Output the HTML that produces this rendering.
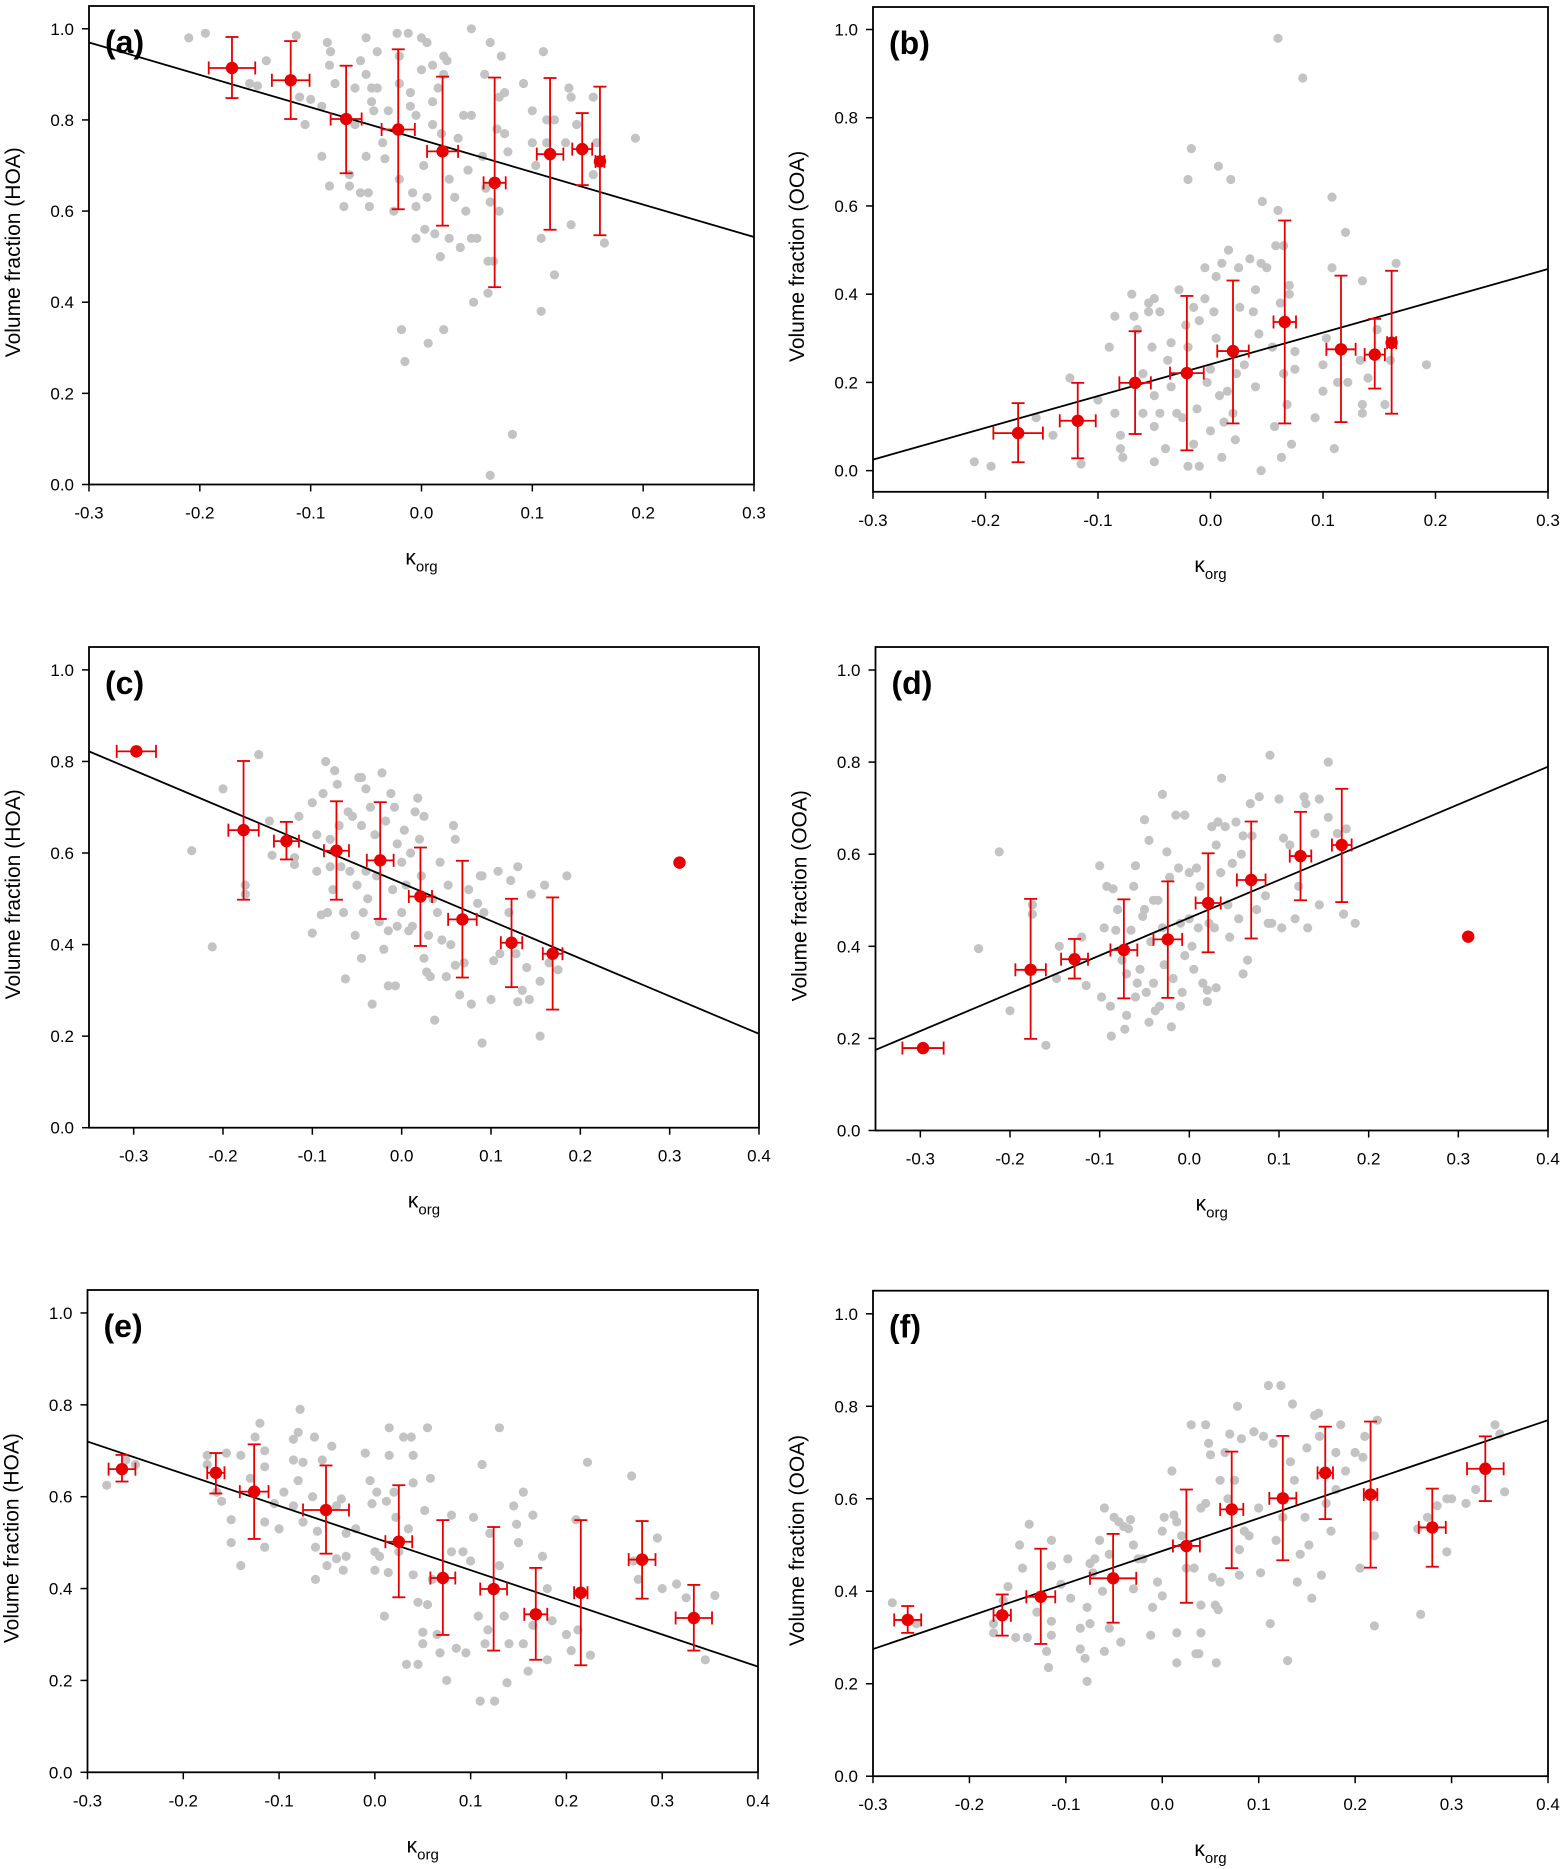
<!DOCTYPE html>
<html><head><meta charset="utf-8"><style>
html,body{margin:0;padding:0;background:#fff}
svg{display:block}
text{font-family:"Liberation Sans",Arial,sans-serif;fill:#000}
</style></head><body>
<svg id="fig" width="1568" height="1869" viewBox="0 0 1568 1869" xmlns="http://www.w3.org/2000/svg"></svg>
<script>
// ---------- Panel (a) ----------
const grayA = [[-0.21,0.98],[-0.195,0.99],[-0.14,0.93],[-0.155,0.88],[-0.148,0.875],[-0.113,0.985],[-0.11,0.85],[-0.1,0.845],[-0.105,0.79],[-0.09,0.83],[-0.09,0.72],[-0.085,0.97],[-0.082,0.95],[-0.083,0.92],[-0.083,0.655],[-0.078,0.88],[-0.07,0.61],[-0.065,0.68],[-0.065,0.655],[-0.06,0.79],[-0.06,0.87],[-0.055,0.93],[-0.055,0.64],[-0.05,0.98],[-0.05,0.9],[-0.05,0.72],[-0.048,0.64],[-0.047,0.61],[-0.045,0.87],[-0.045,0.84],[-0.043,0.82],[-0.04,0.95],[-0.04,0.87],[-0.035,0.75],[-0.033,0.715],[-0.03,0.82],[-0.025,0.6],[-0.022,0.99],[-0.02,0.94],[-0.02,0.88],[-0.02,0.67],[-0.018,0.34],[-0.015,0.27],[-0.012,0.99],[-0.01,0.86],[-0.01,0.83],[-0.008,0.64],[-0.005,0.81],[-0.005,0.61],[-0.005,0.54],[0.0,0.98],[0.0,0.91],[0.002,0.7],[0.003,0.56],[0.005,0.97],[0.005,0.63],[0.006,0.31],[0.01,0.92],[0.01,0.84],[0.01,0.79],[0.012,0.55],[0.015,0.87],[0.017,0.5],[0.018,0.77],[0.02,0.94],[0.02,0.9],[0.02,0.34],[0.023,0.93],[0.025,0.67],[0.025,0.54],[0.03,0.63],[0.033,0.76],[0.035,0.52],[0.038,0.81],[0.04,0.6],[0.042,0.69],[0.045,1.0],[0.045,0.81],[0.045,0.54],[0.047,0.4],[0.05,0.54],[0.055,0.72],[0.057,0.9],[0.058,0.65],[0.06,0.49],[0.06,0.42],[0.062,0.97],[0.062,0.62],[0.062,0.02],[0.065,0.49],[0.068,0.78],[0.07,0.6],[0.07,0.85],[0.072,0.94],[0.075,0.86],[0.075,0.77],[0.078,0.73],[0.082,0.11],[0.092,0.88],[0.1,0.82],[0.1,0.75],[0.103,0.7],[0.108,0.54],[0.108,0.38],[0.11,0.95],[0.113,0.8],[0.113,0.75],[0.12,0.8],[0.12,0.46],[0.13,0.75],[0.133,0.87],[0.135,0.85],[0.135,0.57],[0.14,0.79],[0.155,0.85],[0.155,0.68],[0.158,0.75],[0.165,0.53],[0.193,0.76]];
const binAx = [-0.171,-0.118,-0.068,-0.021,0.019,0.066,0.116,0.145,0.161];
const binAy = [0.914,0.887,0.802,0.779,0.731,0.662,0.725,0.736,0.709];
const binAxe = [0.021,0.017,0.014,0.015,0.014,0.01,0.012,0.009,0.004];
const binAlo = [0.848,0.802,0.683,0.604,0.568,0.433,0.559,0.657,0.547];
const binAhi = [0.982,0.973,0.919,0.955,0.895,0.893,0.892,0.815,0.873];
const fitA = [0.97,0.543];
// ---------- Panel (b) ----------
const grayB = [[-0.21,0.02],[-0.195,0.01],[-0.155,0.12],[-0.14,0.08],[-0.125,0.21],[-0.115,0.015],[-0.1,0.16],[-0.09,0.28],[-0.085,0.35],[-0.085,0.13],[-0.08,0.08],[-0.08,0.05],[-0.078,0.03],[-0.07,0.4],[-0.068,0.35],[-0.065,0.32],[-0.06,0.22],[-0.06,0.13],[-0.055,0.38],[-0.055,0.36],[-0.052,0.28],[-0.05,0.39],[-0.05,0.17],[-0.05,0.1],[-0.05,0.02],[-0.045,0.13],[-0.045,0.36],[-0.04,0.05],[-0.038,0.25],[-0.035,0.29],[-0.035,0.19],[-0.03,0.13],[-0.028,0.41],[-0.025,0.12],[-0.022,0.33],[-0.02,0.66],[-0.02,0.28],[-0.02,0.01],[-0.017,0.73],[-0.015,0.37],[-0.015,0.06],[-0.012,0.14],[-0.01,0.34],[-0.01,0.01],[-0.005,0.46],[-0.005,0.39],[-0.003,0.2],[0.0,0.23],[0.0,0.09],[0.003,0.36],[0.005,0.44],[0.005,0.3],[0.007,0.69],[0.008,0.17],[0.01,0.47],[0.01,0.03],[0.012,0.11],[0.015,0.18],[0.016,0.5],[0.018,0.66],[0.02,0.13],[0.022,0.07],[0.023,0.22],[0.025,0.46],[0.026,0.37],[0.03,0.24],[0.035,0.48],[0.038,0.36],[0.04,0.41],[0.04,0.19],[0.043,0.31],[0.045,0.47],[0.045,0.0],[0.046,0.61],[0.05,0.46],[0.055,0.28],[0.057,0.1],[0.058,0.51],[0.06,0.59],[0.062,0.38],[0.063,0.03],[0.065,0.51],[0.065,0.22],[0.068,0.15],[0.07,0.42],[0.07,0.4],[0.072,0.06],[0.075,0.23],[0.075,0.27],[0.06,0.98],[0.082,0.89],[0.093,0.12],[0.1,0.24],[0.1,0.18],[0.103,0.3],[0.108,0.62],[0.108,0.46],[0.11,0.05],[0.113,0.2],[0.12,0.54],[0.122,0.2],[0.133,0.25],[0.135,0.43],[0.135,0.15],[0.135,0.13],[0.14,0.21],[0.148,0.32],[0.155,0.15],[0.16,0.25],[0.165,0.47],[0.192,0.24]];
const binBx = [-0.171,-0.118,-0.067,-0.021,0.02,0.066,0.116,0.146,0.161];
const binBy = [0.085,0.113,0.199,0.221,0.271,0.337,0.275,0.263,0.29];
const binBxe = [0.022,0.016,0.014,0.015,0.014,0.01,0.013,0.009,0.004];
const binBlo = [0.019,0.028,0.083,0.046,0.107,0.107,0.11,0.186,0.129];
const binBhi = [0.153,0.199,0.316,0.396,0.431,0.567,0.442,0.344,0.453];
const fitB = [0.025,0.457];
// ---------- Panel (c) ----------
const grayC = [[-0.235,0.605],[-0.212,0.395],[-0.2,0.74],[-0.16,0.815],[-0.175,0.53],[-0.175,0.51],[-0.148,0.67],[-0.145,0.595],[-0.12,0.59],[-0.12,0.575],[-0.115,0.68],[-0.1,0.71],[-0.1,0.425],[-0.095,0.64],[-0.095,0.56],[-0.09,0.465],[-0.088,0.73],[-0.085,0.8],[-0.083,0.47],[-0.08,0.63],[-0.08,0.57],[-0.077,0.52],[-0.075,0.78],[-0.072,0.75],[-0.07,0.66],[-0.068,0.57],[-0.065,0.47],[-0.063,0.325],[-0.06,0.69],[-0.058,0.56],[-0.055,0.68],[-0.052,0.42],[-0.05,0.53],[-0.048,0.765],[-0.045,0.765],[-0.045,0.66],[-0.045,0.37],[-0.043,0.47],[-0.04,0.74],[-0.04,0.56],[-0.038,0.5],[-0.035,0.7],[-0.033,0.27],[-0.03,0.64],[-0.028,0.55],[-0.025,0.45],[-0.022,0.775],[-0.02,0.39],[-0.018,0.67],[-0.015,0.43],[-0.015,0.31],[-0.012,0.73],[-0.01,0.52],[-0.008,0.7],[-0.007,0.31],[-0.005,0.62],[-0.005,0.44],[0.0,0.58],[0.0,0.47],[0.003,0.65],[0.005,0.53],[0.008,0.43],[0.01,0.6],[0.012,0.44],[0.015,0.69],[0.018,0.72],[0.02,0.63],[0.022,0.55],[0.025,0.68],[0.025,0.37],[0.028,0.34],[0.03,0.42],[0.032,0.33],[0.035,0.5],[0.037,0.235],[0.04,0.47],[0.043,0.58],[0.045,0.41],[0.05,0.33],[0.052,0.53],[0.055,0.4],[0.058,0.66],[0.06,0.63],[0.06,0.355],[0.065,0.29],[0.07,0.36],[0.075,0.52],[0.078,0.27],[0.085,0.49],[0.088,0.55],[0.09,0.55],[0.09,0.185],[0.092,0.47],[0.1,0.28],[0.103,0.365],[0.108,0.56],[0.11,0.38],[0.12,0.47],[0.122,0.54],[0.128,0.38],[0.13,0.57],[0.13,0.275],[0.135,0.3],[0.14,0.35],[0.143,0.28],[0.145,0.51],[0.155,0.32],[0.155,0.2],[0.16,0.53],[0.165,0.36],[0.175,0.345],[0.185,0.55]];
const binCx = [-0.297,-0.177,-0.129,-0.073,-0.024,0.021,0.068,0.123,0.169,0.311];
const binCy = [0.822,0.65,0.626,0.605,0.584,0.505,0.455,0.404,0.38,0.579];
const binCxe = [0.022,0.017,0.014,0.014,0.015,0.013,0.016,0.012,0.011,0];
const binClo = [0.822,0.498,0.586,0.498,0.456,0.397,0.328,0.307,0.258,0.579];
const binChi = [0.822,0.801,0.668,0.713,0.711,0.612,0.583,0.5,0.503,0.579];
const fitC = [0.822,0.205];
// ---------- Panel (d) ----------
const grayD = [[-0.235,0.395],[-0.212,0.605],[-0.2,0.26],[-0.16,0.185],[-0.175,0.47],[-0.175,0.49],[-0.148,0.33],[-0.145,0.4],[-0.12,0.42],[-0.115,0.315],[-0.1,0.575],[-0.098,0.29],[-0.095,0.44],[-0.092,0.53],[-0.088,0.27],[-0.087,0.205],[-0.085,0.525],[-0.082,0.435],[-0.08,0.48],[-0.075,0.37],[-0.072,0.22],[-0.07,0.34],[-0.07,0.25],[-0.065,0.435],[-0.062,0.53],[-0.06,0.575],[-0.06,0.29],[-0.058,0.32],[-0.055,0.35],[-0.052,0.465],[-0.05,0.675],[-0.05,0.48],[-0.048,0.3],[-0.045,0.63],[-0.045,0.235],[-0.043,0.41],[-0.04,0.5],[-0.04,0.32],[-0.038,0.26],[-0.035,0.5],[-0.033,0.27],[-0.03,0.73],[-0.03,0.44],[-0.028,0.36],[-0.025,0.605],[-0.022,0.55],[-0.02,0.225],[-0.018,0.33],[-0.015,0.685],[-0.012,0.57],[-0.01,0.45],[-0.01,0.27],[-0.008,0.3],[-0.005,0.685],[-0.005,0.38],[0.0,0.56],[0.0,0.46],[0.003,0.4],[0.005,0.35],[0.008,0.57],[0.01,0.44],[0.012,0.53],[0.015,0.32],[0.02,0.305],[0.02,0.28],[0.022,0.45],[0.025,0.66],[0.028,0.44],[0.03,0.62],[0.03,0.31],[0.032,0.67],[0.035,0.56],[0.036,0.765],[0.04,0.66],[0.043,0.49],[0.045,0.42],[0.048,0.58],[0.052,0.67],[0.055,0.46],[0.058,0.6],[0.06,0.64],[0.06,0.34],[0.065,0.37],[0.068,0.71],[0.07,0.64],[0.075,0.48],[0.078,0.725],[0.085,0.51],[0.088,0.45],[0.09,0.815],[0.092,0.45],[0.1,0.72],[0.103,0.44],[0.105,0.635],[0.112,0.62],[0.118,0.46],[0.122,0.53],[0.128,0.725],[0.13,0.71],[0.132,0.44],[0.14,0.645],[0.145,0.72],[0.145,0.49],[0.155,0.8],[0.155,0.68],[0.165,0.645],[0.172,0.47],[0.175,0.655],[0.185,0.45]];
const binDx = [-0.297,-0.177,-0.128,-0.073,-0.024,0.021,0.069,0.124,0.17,0.311];
const binDy = [0.179,0.349,0.372,0.392,0.415,0.494,0.544,0.596,0.62,0.421];
const binDxe = [0.023,0.017,0.015,0.015,0.016,0.014,0.016,0.012,0.011,0];
const binDlo = [0.179,0.199,0.33,0.287,0.288,0.387,0.417,0.5,0.496,0.421];
const binDhi = [0.179,0.503,0.416,0.502,0.541,0.602,0.671,0.692,0.742,0.421];
const fitD = [0.175,0.79];
// ---------- Panel (e) ----------
const grayE = [[-0.28,0.625],[-0.26,0.68],[-0.25,0.67],[-0.175,0.69],[-0.175,0.67],[-0.165,0.61],[-0.16,0.59],[-0.155,0.695],[-0.15,0.55],[-0.15,0.5],[-0.14,0.45],[-0.14,0.69],[-0.13,0.64],[-0.125,0.73],[-0.12,0.76],[-0.115,0.7],[-0.115,0.665],[-0.115,0.545],[-0.115,0.49],[-0.105,0.585],[-0.1,0.53],[-0.095,0.61],[-0.085,0.725],[-0.085,0.68],[-0.085,0.58],[-0.08,0.74],[-0.08,0.635],[-0.078,0.79],[-0.075,0.675],[-0.075,0.545],[-0.065,0.6],[-0.063,0.73],[-0.062,0.49],[-0.062,0.42],[-0.06,0.525],[-0.055,0.68],[-0.05,0.45],[-0.045,0.71],[-0.04,0.58],[-0.04,0.465],[-0.035,0.595],[-0.033,0.44],[-0.03,0.52],[-0.03,0.47],[-0.02,0.53],[-0.01,0.695],[-0.005,0.635],[-0.003,0.585],[0.0,0.48],[0.0,0.44],[0.002,0.61],[0.005,0.47],[0.01,0.34],[0.012,0.59],[0.014,0.435],[0.015,0.69],[0.015,0.75],[0.02,0.61],[0.022,0.555],[0.025,0.48],[0.03,0.73],[0.033,0.235],[0.035,0.53],[0.038,0.73],[0.04,0.63],[0.04,0.69],[0.04,0.43],[0.045,0.37],[0.045,0.235],[0.05,0.305],[0.05,0.28],[0.052,0.57],[0.055,0.75],[0.055,0.365],[0.058,0.64],[0.06,0.42],[0.065,0.3],[0.068,0.26],[0.075,0.2],[0.08,0.56],[0.08,0.48],[0.085,0.27],[0.092,0.48],[0.095,0.26],[0.1,0.46],[0.103,0.555],[0.108,0.34],[0.11,0.155],[0.112,0.67],[0.115,0.28],[0.118,0.31],[0.12,0.52],[0.125,0.155],[0.13,0.75],[0.13,0.45],[0.135,0.34],[0.138,0.195],[0.14,0.28],[0.145,0.58],[0.148,0.54],[0.15,0.5],[0.155,0.28],[0.155,0.61],[0.16,0.22],[0.165,0.56],[0.165,0.32],[0.175,0.47],[0.18,0.245],[0.18,0.4],[0.185,0.33],[0.2,0.3],[0.205,0.265],[0.21,0.55],[0.212,0.31],[0.222,0.675],[0.225,0.255],[0.268,0.645],[0.27,0.46],[0.275,0.42],[0.295,0.51],[0.3,0.4],[0.315,0.41],[0.325,0.38],[0.345,0.245],[0.355,0.385]];
const binEx = [-0.264,-0.166,-0.126,-0.051,0.025,0.071,0.124,0.168,0.215,0.279,0.333];
const binEy = [0.66,0.652,0.611,0.571,0.502,0.423,0.399,0.344,0.391,0.463,0.336];
const binExe = [0.014,0.009,0.015,0.024,0.014,0.013,0.014,0.012,0.007,0.014,0.019];
const binElo = [0.633,0.607,0.508,0.476,0.381,0.299,0.265,0.245,0.233,0.378,0.265];
const binEhi = [0.691,0.695,0.714,0.668,0.625,0.549,0.534,0.445,0.549,0.547,0.408];
const fitE = [0.72,0.23];
// ---------- Panel (f) ----------
const grayF = [[-0.28,0.375],[-0.255,0.33],[-0.175,0.33],[-0.175,0.31],[-0.165,0.38],[-0.16,0.41],[-0.152,0.3],[-0.148,0.5],[-0.145,0.45],[-0.14,0.3],[-0.138,0.545],[-0.13,0.355],[-0.12,0.27],[-0.118,0.235],[-0.115,0.51],[-0.115,0.455],[-0.115,0.335],[-0.115,0.305],[-0.105,0.415],[-0.098,0.47],[-0.095,0.385],[-0.085,0.32],[-0.085,0.275],[-0.08,0.255],[-0.078,0.205],[-0.078,0.365],[-0.075,0.46],[-0.075,0.33],[-0.072,0.44],[-0.07,0.47],[-0.065,0.51],[-0.062,0.4],[-0.06,0.58],[-0.06,0.27],[-0.055,0.32],[-0.055,0.48],[-0.05,0.56],[-0.045,0.55],[-0.043,0.29],[-0.04,0.54],[-0.035,0.535],[-0.033,0.555],[-0.03,0.5],[-0.03,0.405],[-0.025,0.47],[-0.02,0.47],[-0.012,0.305],[-0.01,0.365],[-0.005,0.42],[0.0,0.53],[0.0,0.39],[0.002,0.56],[0.01,0.66],[0.012,0.565],[0.015,0.55],[0.015,0.31],[0.015,0.245],[0.02,0.52],[0.025,0.45],[0.03,0.76],[0.033,0.45],[0.035,0.265],[0.038,0.265],[0.04,0.37],[0.04,0.31],[0.04,0.58],[0.045,0.76],[0.045,0.59],[0.048,0.72],[0.05,0.695],[0.052,0.43],[0.055,0.37],[0.056,0.245],[0.058,0.36],[0.06,0.64],[0.06,0.42],[0.065,0.7],[0.068,0.6],[0.07,0.74],[0.075,0.64],[0.078,0.8],[0.08,0.49],[0.08,0.435],[0.082,0.73],[0.085,0.53],[0.09,0.52],[0.095,0.745],[0.1,0.58],[0.102,0.44],[0.105,0.735],[0.11,0.845],[0.112,0.33],[0.115,0.72],[0.118,0.51],[0.123,0.845],[0.125,0.56],[0.13,0.25],[0.133,0.68],[0.135,0.805],[0.137,0.64],[0.14,0.42],[0.143,0.48],[0.148,0.56],[0.15,0.71],[0.152,0.5],[0.155,0.385],[0.158,0.78],[0.162,0.785],[0.163,0.735],[0.165,0.435],[0.17,0.59],[0.175,0.53],[0.18,0.62],[0.18,0.7],[0.185,0.76],[0.19,0.66],[0.2,0.7],[0.205,0.45],[0.208,0.69],[0.21,0.735],[0.22,0.52],[0.22,0.325],[0.223,0.77],[0.265,0.535],[0.268,0.35],[0.275,0.56],[0.285,0.585],[0.295,0.6],[0.295,0.485],[0.3,0.6],[0.315,0.59],[0.325,0.62],[0.345,0.76],[0.35,0.74],[0.355,0.615]];
const binFx = [-0.264,-0.166,-0.126,-0.051,0.025,0.072,0.125,0.169,0.216,0.28,0.335];
const binFy = [0.338,0.348,0.388,0.428,0.498,0.577,0.601,0.656,0.609,0.538,0.665];
const binFxe = [0.014,0.009,0.015,0.024,0.014,0.012,0.014,0.008,0.007,0.014,0.019];
const binFlo = [0.31,0.304,0.286,0.332,0.375,0.45,0.467,0.556,0.451,0.453,0.595];
const binFhi = [0.368,0.393,0.492,0.524,0.62,0.702,0.736,0.756,0.767,0.622,0.735];
const fitF = [0.275,0.77];
// ---------- Tick labels ----------
const xTicks6 = ["-0.3","-0.2","-0.1","0.0","0.1","0.2","0.3"];
const xTicks7 = ["-0.3","-0.2","-0.1","0.0","0.1","0.2","0.3","0.4"];
const yTicks = ["0.0","0.2","0.4","0.6","0.8","1.0"];

const NS = "http://www.w3.org/2000/svg";
const svg = document.getElementById('fig');
function el(tag, attrs, parent) {
  const e = document.createElementNS(NS, tag);
  for (const k in attrs) e.setAttribute(k, attrs[k]);
  (parent || svg).appendChild(e);
  return e;
}
const RED = "#e60000";

function panel(p) {
  const g = el('g', {});
  
  
  const X = v => p.L + (v - p.x0) / (p.x1 - p.x0) * (p.R - p.L);
  const Y = v => p.B - (v - p.y0) / (p.y1 - p.y0) * (p.B - p.T);

  // gray points
  const gg = el('g', {}, g);
  
  
  p.gray.forEach(d => {
    const c = el('circle', {cx: X(d[0]).toFixed(1), cy: Y(d[1]).toFixed(1), r: 4.6, fill: '#c3c3c3'}, gg);
    
    
  });

  // fit line
  const fl = el('line', {x1: X(p.x0), y1: Y(p.fit[0]), x2: X(p.x1), y2: Y(p.fit[1]), stroke: '#000', 'stroke-width': 1.8}, g);
  
  

  // binned means with error bars
  const bg = el('g', {}, g);
  
  
  for (let i = 0; i < p.bx.length; i++) {
    const cx = X(p.bx[i]), cy = Y(p.by[i]);
    const eg = el('g', {stroke: RED, 'stroke-width': 1.8, fill: 'none'}, bg);
    
    
    if (p.hi[i] !== p.lo[i]) {
      const yt = Y(p.hi[i]), yb = Y(p.lo[i]);
      el('line', {x1: cx, y1: yt, x2: cx, y2: yb}, eg);
      el('line', {x1: cx - 6.5, y1: yt, x2: cx + 6.5, y2: yt}, eg);
      el('line', {x1: cx - 6.5, y1: yb, x2: cx + 6.5, y2: yb}, eg);
    }
    if (p.xe[i] > 0) {
      const xl = X(p.bx[i] - p.xe[i]), xr = X(p.bx[i] + p.xe[i]);
      el('line', {x1: xl, y1: cy, x2: xr, y2: cy}, eg);
      el('line', {x1: xl, y1: cy - 6.5, x2: xl, y2: cy + 6.5}, eg);
      el('line', {x1: xr, y1: cy - 6.5, x2: xr, y2: cy + 6.5}, eg);
    }
    const m = el('circle', {cx: cx, cy: cy, r: 6.2, fill: RED}, bg);
    
    
  }

  // frame
  const fr = el('rect', {x: p.L, y: p.T, width: p.R - p.L, height: p.B - p.T, fill: 'none', stroke: '#000', 'stroke-width': 1.8}, g);
  
  

  // x ticks
  const xt = el('g', {}, g);
  
  
  p.xt.forEach(s => {
    const v = parseFloat(s), x = X(v);
    el('line', {x1: x, y1: p.B, x2: x, y2: p.B + 7, stroke: '#000', 'stroke-width': 1.5}, xt);
    const t = el('text', {x: x, y: p.B + 34, 'text-anchor': 'middle', 'font-size': 17}, xt);
    t.textContent = s;
    
    
  });
  // y ticks
  const yt = el('g', {}, g);
  
  
  yTicks.forEach(s => {
    const v = parseFloat(s), y = Y(v);
    el('line', {x1: p.L - 7, y1: y, x2: p.L, y2: y, stroke: '#000', 'stroke-width': 1.5}, yt);
    const t = el('text', {x: p.L - 15, y: y + 6, 'text-anchor': 'end', 'font-size': 17}, yt);
    t.textContent = s;
    
    
  });
  // y title
  const ycx = p.L - 69, ycy = (p.T + p.B) / 2;
  const ytl = el('text', {x: ycx, y: ycy, 'text-anchor': 'middle', 'font-size': 21, transform: `rotate(-90 ${ycx} ${ycy + 7}) translate(0 7)`}, g);
  ytl.textContent = p.ytitle;
  
  
  // x title
  const xtl = el('text', {x: (p.L + p.R) / 2, y: p.B + 80, 'text-anchor': 'middle', 'font-size': 21}, g);
  
  
  const k = el('tspan', {}, xtl); k.textContent = 'κ';
  const sub = el('tspan', {dy: 7, 'font-size': 15}, xtl); sub.textContent = 'org';
  // panel label
  const pl = el('text', {x: p.L + 16, y: p.T + 47, 'font-size': 32, 'font-weight': 'bold'}, g);
  pl.textContent = '(' + p.id + ')';
  
  
}

panel({id:'a', L:89, R:754, T:6, B:484.5, x0:-0.3, x1:0.3, y0:0, y1:1.05, xt:xTicks6, ytitle:'Volume fraction (HOA)', gray:grayA, fit:fitA, bx:binAx, by:binAy, xe:binAxe, lo:binAlo, hi:binAhi});
panel({id:'b', L:873, R:1548, T:7, B:491.8, x0:-0.3, x1:0.3, y0:-0.048, y1:1.051, xt:xTicks6, ytitle:'Volume fraction (OOA)', gray:grayB, fit:fitB, bx:binBx, by:binBy, xe:binBxe, lo:binBlo, hi:binBhi});
panel({id:'c', L:89, R:759, T:647, B:1127.7, x0:-0.35, x1:0.4, y0:0, y1:1.05, xt:xTicks7, ytitle:'Volume fraction (HOA)', gray:grayC, fit:fitC, bx:binCx, by:binCy, xe:binCxe, lo:binClo, hi:binChi});
panel({id:'d', L:875.5, R:1548, T:647, B:1130.5, x0:-0.35, x1:0.4, y0:0, y1:1.05, xt:xTicks7, ytitle:'Volume fraction (OOA)', gray:grayD, fit:fitD, bx:binDx, by:binDy, xe:binDxe, lo:binDlo, hi:binDhi});
panel({id:'e', L:87.5, R:758, T:1290, B:1772.3, x0:-0.3, x1:0.4, y0:0, y1:1.05, xt:xTicks7, ytitle:'Volume fraction (HOA)', gray:grayE, fit:fitE, bx:binEx, by:binEy, xe:binExe, lo:binElo, hi:binEhi});
panel({id:'f', L:873, R:1548, T:1290.7, B:1776.2, x0:-0.3, x1:0.4, y0:0, y1:1.05, xt:xTicks7, ytitle:'Volume fraction (OOA)', gray:grayF, fit:fitF, bx:binFx, by:binFy, xe:binFxe, lo:binFlo, hi:binFhi});
</script>
</body></html>
